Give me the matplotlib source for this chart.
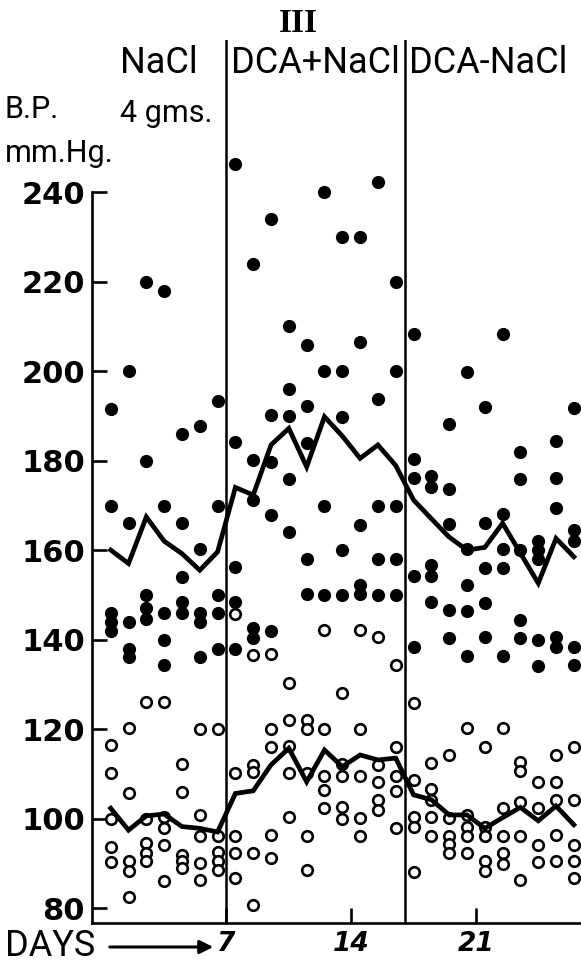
import matplotlib
matplotlib.use("Agg")
import matplotlib.pyplot as plt

# day positions (points are plotted in the middle of each day)
days = [0.5, 1.5, 2.5, 3.5, 4.5, 5.5, 6.5, 7.5, 8.5, 9.5, 10.5, 11.5, 12.5, 13.5,
        14.5, 15.5, 16.5, 17.5, 18.5, 19.5, 20.5, 21.5, 22.5, 23.5, 24.5, 25.5, 26.5]

# systolic readings (filled circles), one list per day
systolic = [
    [191.5, 169.8, 146, 144, 142],
    [200, 166, 144, 138, 136],
    [220, 180, 150, 147, 144.5],
    [218, 169.8, 146, 140, 134.3],
    [186, 166, 154, 148.5, 146],
    [187.7, 160.2, 146, 144, 136],
    [193.4, 169.8, 150, 146, 138],
    [246.3, 184.2, 156.3, 148.4, 138],
    [224, 180.1, 171.3, 142.6, 140.3],
    [234, 190.2, 179.7, 167.8, 142],
    [210, 196, 190, 175.8, 164.1],
    [205.8, 192.2, 184, 158.1, 150.1],
    [240, 200, 169.8, 150],
    [230, 200, 189.8, 160.1, 150],
    [230, 206.4, 165.7, 152.3, 150.1],
    [242.3, 193.8, 169.8, 158.1, 150],
    [220, 200, 169.8, 158, 150],
    [208.2, 180.3, 176, 154.2, 138.3],
    [176.6, 174.1, 156.7, 154.2, 148.4],
    [188.1, 173.6, 165.8, 146.6, 140.3],
    [199.8, 160.2, 152.2, 146.4, 136.3],
    [191.9, 166, 156.1, 148.1, 140.6],
    [208.2, 168, 160.2, 155.9, 136.3],
    [182, 175.9, 160, 144.4, 140.3],
    [162, 160, 158, 140, 134.1],
    [184.4, 176.2, 169.5, 140.5, 138.3],
    [191.8, 164.5, 162.1, 138.3, 134.3],
]

# diastolic readings (open circles), one list per day
diastolic = [
    [116.4, 110.1, 100, 93.6, 90.3],
    [120.2, 105.8, 90.4, 88.2, 82.4],
    [126, 99.8, 94.6, 92.4, 90.5],
    [126, 100.3, 97.8, 94, 86],
    [112.1, 106, 91.8, 90.4, 88.9],
    [120, 100.7, 96.1, 90, 86.2],
    [120, 96, 92.6, 90.5, 88.5],
    [145.7, 110.2, 96, 92.4, 86.6],
    [136.5, 112, 110.3, 92.4, 80.7],
    [136.8, 120, 116, 96.3, 91.1],
    [130.3, 122, 116.3, 110.1, 100.3],
    [122, 119.9, 110.1, 96.1, 88.5],
    [142.1, 120, 109.6, 106.4, 102.4],
    [128.1, 112.2, 109.6, 102.6, 99.8],
    [142.1, 120, 109.6, 100.2, 96],
    [140.5, 112, 108.2, 104.2, 101.9],
    [134.3, 116, 109.6, 106.2, 97.9],
    [125.8, 108.6, 100.3, 98.1, 88.1],
    [112.3, 106.6, 104.2, 100.3, 96.1],
    [114.2, 100.1, 96.1, 94.3, 92.4],
    [120.2, 100.7, 98.2, 96.1, 92.4],
    [115.9, 98.2, 96, 90.6, 88.3],
    [120.2, 102.4, 96.1, 92.4, 89.9],
    [112.7, 110.6, 103.8, 96.1, 86.2],
    [108.2, 102.4, 94.1, 90.2],
    [114.2, 108.2, 104.2, 96.3, 90.4],
    [115.9, 104.2, 94.1, 90.6, 86.6],
]

sys_mean = [160, 157, 167.4, 162, 159.2, 155.5, 159.6, 174, 172.3, 183.5, 187.2,
            178.6, 189.8, 185.5, 180.5, 183.5, 178.9, 171.2, 167, 162.9, 160,
            160.6, 166, 159.3, 152.6, 162.6, 158.5]
dia_mean = [102.3, 97.4, 100.6, 101, 98.2, 97.8, 97, 105.6, 106.2, 112, 115.7,
            108.2, 115.3, 111.6, 114.2, 113.1, 113.5, 105.3, 104.2, 100.8, 100.8,
            97.8, 100.2, 102.5, 99.5, 102.8, 98.6]

phase_bounds = [7, 17]
phase_labels = ["NaCl", "DCA+NaCl", "DCA-NaCl"]
yticks = [80, 100, 120, 140, 160, 180, 200, 220, 240]
xticks = [7, 14, 21]

fig = plt.figure(figsize=(5.81, 9.64), dpi=100)
ax = fig.add_axes([92 / 581, 1 - 923 / 964, 1 - 92 / 581, (923 - 40) / 964])

sx, sy, dx, dy = [], [], [], []
for d, vals in zip(days, systolic):
    sx += [d] * len(vals)
    sy += vals
for d, vals in zip(days, diastolic):
    dx += [d] * len(vals)
    dy += vals

ax.plot(sx, sy, "o", color="black", ms=9.5, mew=0, zorder=3)
ax.plot(dx, dy, "o", mfc="white", mec="black", ms=7.6, mew=1.9, zorder=3)
ax.plot(days, sys_mean, color="black", lw=3.4, solid_joinstyle="miter", zorder=4)
ax.plot(days, dia_mean, color="black", lw=3.4, solid_joinstyle="miter", zorder=4)

for b in phase_bounds:
    ax.axvline(b, color="black", lw=1.8, zorder=2)

ax.set_xlim(-0.55, 26.9)
ax.set_ylim(76.65, 274)
for s in ["top", "right"]:
    ax.spines[s].set_visible(False)
ax.spines["left"].set_bounds(76.65, 240)
ax.spines["left"].set_linewidth(1.9)
ax.spines["bottom"].set_linewidth(1.9)

ax.set_yticks(yticks)
ax.set_yticklabels([str(v) for v in yticks], fontsize=22, fontweight="bold")
ax.set_xticks(xticks)
ax.set_xticklabels([str(v) for v in xticks], fontsize=19, fontweight="bold",
                   style="italic")
ax.tick_params(axis="y", direction="in", length=11, width=1.9, pad=5)
ax.tick_params(axis="x", direction="in", length=11, width=1.9, pad=6)

hdr = dict(family="Roboto", fontsize=26, va="center", ha="left")
fig.text(120 / 581, 1 - 63 / 964, phase_labels[0], **hdr)
fig.text(231 / 581, 1 - 63 / 964, phase_labels[1], **hdr)
fig.text(409 / 581, 1 - 63 / 964, phase_labels[2], **hdr)
fig.text(298 / 581, 1 - 24 / 964, "III", family="Liberation Serif", fontsize=24,
         fontweight="bold", ha="center", va="center")
fig.text(5 / 581, 1 - 110 / 964, "B.P.", family="Roboto", fontsize=22,
         va="center", ha="left")
fig.text(5 / 581, 1 - 153 / 964, "mm.Hg.", family="Roboto", fontsize=22,
         va="center", ha="left")
fig.text(120 / 581, 1 - 113 / 964, "4 gms.", family="Roboto", fontsize=22,
         va="center", ha="left")
fig.text(5 / 581, 1 - 946 / 964, "DAYS", family="Roboto", fontsize=26,
         va="center", ha="left")
fig.add_artist(matplotlib.patches.FancyArrowPatch(
    (107 / 581, 1 - 947 / 964), (216 / 581, 1 - 947 / 964),
    transform=fig.transFigure, arrowstyle="-|>,head_length=8,head_width=4",
    color="black", lw=2.2))

fig.savefig("out.png", dpi=100)
